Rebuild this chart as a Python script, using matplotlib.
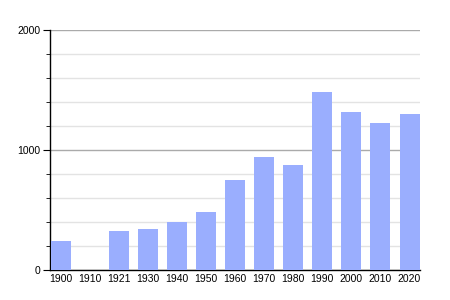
import matplotlib.pyplot as plt
from matplotlib.ticker import MultipleLocator

years = ["1900", "1910", "1921", "1930", "1940", "1950", "1960", "1970",
         "1980", "1990", "2000", "2010", "2020"]
pop = [244, 0, 328, 339, 397, 483, 750, 942, 875, 1486, 1319, 1225, 1300]

plt.rcParams['font.family'] = ['Liberation Sans', 'DejaVu Sans']

fig = plt.figure(figsize=(4.5, 3), dpi=100)
ax = fig.add_axes([50/450, 0.1, 370/450, 0.799])

x = range(len(years))
ax.bar(x, pop, width=0.69, color="#9aaefe", zorder=3)

ax.set_xlim(-0.37, 12.36)
ax.set_ylim(0, 2000)
ax.set_xticks(list(x))
ax.set_xticklabels(years)
ax.yaxis.set_major_locator(MultipleLocator(1000))
ax.yaxis.set_minor_locator(MultipleLocator(200))

# grille
ax.grid(axis="y", which="major", color="#aaaaaa", linewidth=1, zorder=1)
ax.grid(axis="y", which="minor", color="#e3e3e3", linewidth=1, zorder=1)

for s in ["top", "right"]:
    ax.spines[s].set_visible(False)
ax.spines["left"].set_linewidth(1)
ax.spines["bottom"].set_linewidth(1)

ax.tick_params(axis="x", length=0, labelsize=7.5, pad=3)
ax.tick_params(axis="y", which="major", length=5, labelsize=7.5, pad=2)
ax.tick_params(axis="y", which="minor", length=3)

fig.savefig("out.png", dpi=100)
